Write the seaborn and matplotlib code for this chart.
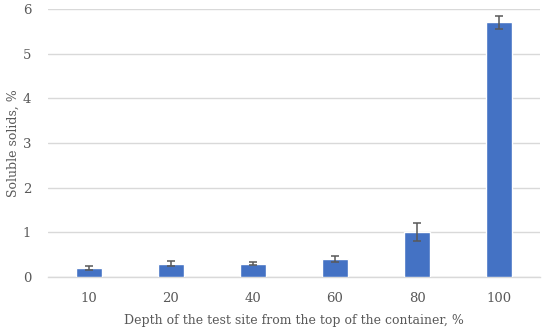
import matplotlib
matplotlib.use("Agg")
import matplotlib.pyplot as plt
import seaborn as sns
import pandas as pd

depth_labels = ["10", "20", "40", "60", "80", "100"]
soluble_solids = [0.2, 0.3, 0.3, 0.4, 1.0, 5.7]
errors = [0.05, 0.06, 0.03, 0.07, 0.2, 0.15]

sns.set_style("white")
plt.rcParams['font.family'] = ['DejaVu Serif']

df = pd.DataFrame({"depth": depth_labels, "value": soluble_solids})

fig = plt.figure(figsize=(5.5, 3.35), dpi=100)
ax = fig.add_axes([0.087, 0.173, 0.895, 0.8])

sns.barplot(data=df, x="depth", y="value", color="#4472C4", saturation=1,
            width=0.31, errorbar=None, ax=ax, zorder=3)
ax.errorbar(range(len(depth_labels)), soluble_solids, yerr=errors, fmt="none",
            ecolor="#595959", elinewidth=1.1, capsize=3, capthick=1.1, zorder=4)

ax.set_ylim(0, 6)
ax.set_yticks(range(0, 7))
ax.set_xlim(-0.5, len(depth_labels) - 0.5)
ax.grid(axis="y", color="#d9d9d9", linewidth=1, zorder=0)
ax.set_axisbelow(True)
for s in ["top", "right", "left"]:
    ax.spines[s].set_visible(False)
ax.spines["bottom"].set_color("#d9d9d9")
ax.spines["bottom"].set_linewidth(1)
ax.tick_params(axis="both", length=0, labelsize=9.5, colors="#595959")
ax.tick_params(axis="x", pad=11)
ax.tick_params(axis="y", pad=12)
ax.set_xlabel("Depth of the test site from the top of the container, %",
              fontsize=9, color="#595959", labelpad=6)
ax.set_ylabel("Soluble solids, %", fontsize=9, color="#595959", labelpad=2)

fig.savefig("out.png", dpi=100)
